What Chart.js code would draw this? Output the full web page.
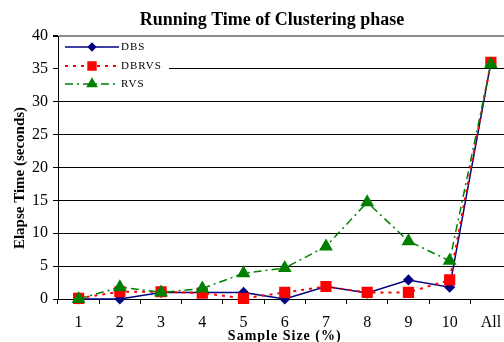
<!DOCTYPE html>
<html>
<head>
<meta charset="utf-8">
<script src="https://cdn.jsdelivr.net/npm/chart.js@4/dist/chart.umd.min.js"></script>
<style>
  html, body { margin: 0; padding: 0; background: #fff; overflow: hidden; }
  #wrap { width: 520px; height: 342px; position: relative; }
</style>
</head>
<body>
<div id="wrap"><canvas id="c" width="520" height="342"></canvas></div>
<script>
// Sample sizes (percent of the data set) and running times in seconds
const categories = ['1', '2', '3', '4', '5', '6', '7', '8', '9', '10', 'All'];
const dbsTimes   = [0, 0, 1, 1, 1, 0, 1.9, 0.9, 2.9, 1.8, 36];
const dbrvsTimes = [0.1, 1.1, 1.1, 0.9, 0.1, 1, 1.9, 1.0, 1.0, 2.9, 36];
const rvsTimes   = [0, 1.8, 1, 1.6, 3.9, 4.7, 8, 14.7, 8.8, 5.8, 35.7];
const yTicks     = [0, 5, 10, 15, 20, 25, 30, 35, 40];

const SERIF = "'Liberation Serif', 'Times New Roman', serif";

// Titles and an inset legend drawn with line samples
const decorations = {
  id: 'decorations',
  beforeDatasetsDraw(chart) {
    const ctx = chart.ctx;
    const a = chart.chartArea;
    ctx.save();
    ctx.fillStyle = '#fff';
    ctx.fillRect(a.left + 1, a.top + 1, 110, 56);
    const rows = [47, 66, 84];
    chart.data.datasets.forEach((ds, i) => {
      const y = rows[i];
      const x0 = a.left + 7, x1 = a.left + 61, xm = (x0 + x1) / 2;
      ctx.strokeStyle = ds.borderColor;
      ctx.lineWidth = ds.borderWidth;
      ctx.setLineDash(ds.borderDash || []);
      ctx.beginPath();
      ctx.moveTo(x0, y);
      ctx.lineTo(x1, y);
      ctx.stroke();
      ctx.setLineDash([]);
      Chart.helpers.drawPoint(ctx, {
        pointStyle: ds.pointStyle,
        radius: ds.pointRadius * 0.8,
        borderWidth: 1
      }, xm, y);
      ctx.fillStyle = ds.pointBackgroundColor;
      ctx.strokeStyle = ds.pointBorderColor;
      ctx.fill();
      ctx.fillStyle = '#000';
      ctx.font = '11px ' + SERIF;
      ctx.letterSpacing = '1px';
      ctx.textAlign = 'left';
      ctx.textBaseline = 'middle';
      ctx.fillText(ds.label, x1 + 2, y);
      ctx.letterSpacing = '0px';
    });
    ctx.restore();
  },
  afterDraw(chart) {
    const ctx = chart.ctx;
    const a = chart.chartArea;
    ctx.save();
    ctx.fillStyle = '#000';
    ctx.textAlign = 'center';
    ctx.textBaseline = 'middle';
    ctx.font = 'bold 18px ' + SERIF;
    ctx.fillText('Running Time of Clustering phase', 272, 20);

    ctx.font = 'bold 14px ' + SERIF;
    ctx.letterSpacing = '1px';
    ctx.fillText('Sample Size (%)', (a.left + a.right) / 2, a.bottom + 37);
    ctx.letterSpacing = '0px';

    ctx.font = 'bold 15px ' + SERIF;
    ctx.translate(20, 178);
    ctx.rotate(-Math.PI / 2);
    ctx.fillText('Elapse Time (seconds)', 0, 0);
    ctx.restore();
  }
};

new Chart(document.getElementById('c'), {
  type: 'line',
  data: {
    labels: categories,
    datasets: [
      {
        label: 'DBS',
        data: dbsTimes,
        borderColor: '#000080',
        borderWidth: 1.5,
        pointStyle: 'rectRot',
        pointRadius: 4.5,
        pointBackgroundColor: '#000080',
        pointBorderColor: '#000080',
        tension: 0,
        clip: false,
        order: 3
      },
      {
        label: 'DBRVS',
        data: dbrvsTimes,
        borderColor: '#ff0000',
        borderWidth: 2,
        borderDash: [3, 5],
        pointStyle: 'rect',
        pointRadius: 6.5,
        pointBackgroundColor: '#ff0000',
        pointBorderColor: '#ff0000',
        tension: 0,
        clip: false,
        order: 2
      },
      {
        label: 'RVS',
        data: rvsTimes,
        borderColor: '#008000',
        borderWidth: 1.5,
        borderDash: [8, 4, 2, 4],
        pointStyle: 'triangle',
        pointRadius: 6.5,
        pointBackgroundColor: '#008000',
        pointBorderColor: '#008000',
        tension: 0,
        clip: false,
        order: 1
      }
    ]
  },
  options: {
    responsive: false,
    animation: false,
    devicePixelRatio: 1,
    layout: { padding: { top: 36, right: 4, left: 0, bottom: 0 } },
    plugins: {
      legend: { display: false },
      title: { display: false },
      tooltip: { enabled: false }
    },
    scales: {
      x: {
        offset: true,
        afterFit(scale) { scale.height = 43; },
        grid: {
          offset: true,
          drawOnChartArea: false,
          drawTicks: true,
          tickLength: 5,
          color: '#000'
        },
        border: { color: '#000', width: 1 },
        ticks: {
          color: '#000',
          font: { family: SERIF, size: 16 },
          padding: 9,
          maxRotation: 0,
          autoSkip: false
        }
      },
      y: {
        min: 0,
        max: 40,
        afterFit(scale) { scale.width = 58; },
        afterBuildTicks(scale) { scale.ticks = yTicks.map(v => ({ value: v })); },
        grid: {
          color: ctx => (ctx.tick && ctx.tick.value === 40 ? '#8a8a8a' : '#000'),
          lineWidth: ctx => (ctx.tick && ctx.tick.value === 40 ? 2 : 1),
          tickLength: 5,
          tickColor: '#000'
        },
        border: { color: '#000', width: 1 },
        ticks: {
          color: '#000',
          font: { family: SERIF, size: 16 },
          padding: 5
        }
      }
    }
  },
  plugins: [decorations]
});
</script>
</body>
</html>
